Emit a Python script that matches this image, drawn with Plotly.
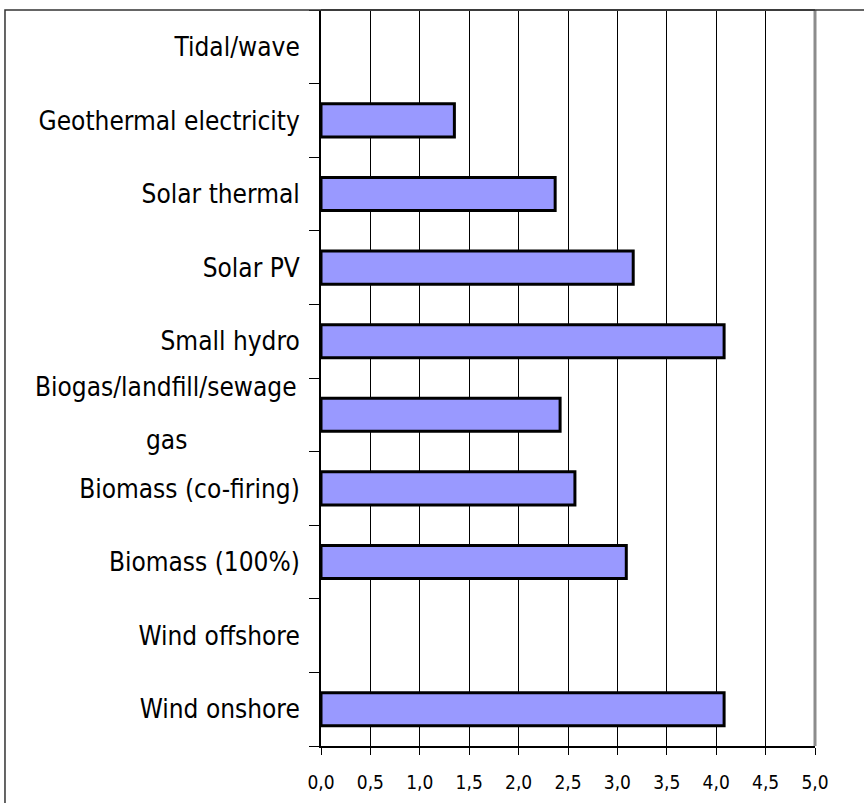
import plotly.graph_objects as go

# categories, bottom to top
sources = ['Wind onshore', 'Wind offshore', 'Biomass (100%)', 'Biomass (co-firing)',
           'Biogas/landfill/sewage gas', 'Small hydro', 'Solar PV', 'Solar thermal',
           'Geothermal electricity', 'Tidal/wave']
values = [4.08, None, 3.09, 2.57, 2.42, 4.08, 3.16, 2.37, 1.35, None]
x_ticks = [0, 0.5, 1, 1.5, 2, 2.5, 3, 3.5, 4, 4.5, 5]

FONT = 'DejaVu Sans Condensed, Liberation Sans Narrow, Arial Narrow, sans-serif'

fig = go.Figure(go.Bar(
    x=values, y=sources, orientation='h',
    marker=dict(color='#9999FF', line=dict(color='black', width=3)),
    showlegend=False,
))

fig.update_layout(
    width=864, height=803,
    margin=dict(l=321, r=49, t=10, b=57),
    paper_bgcolor='white', plot_bgcolor='white',
    separators=',.',
    bargap=0.55,
    font=dict(family=FONT, color='black'),
)

fig.update_xaxes(
    range=[0, 5], tickvals=x_ticks, tickformat='.1f',
    showgrid=True, gridcolor='black', gridwidth=1,
    showline=True, linecolor='black', linewidth=2,
    ticks='outside', ticklen=7, tickcolor='black',
    tickfont=dict(size=19, family=FONT),
    ticklabelstandoff=11, zeroline=False, automargin=False,
)

fig.update_yaxes(
    type='category', categoryorder='array', categoryarray=sources,
    showgrid=False, showline=True, linecolor='black', linewidth=2,
    ticks='outside', tickson='boundaries', ticklen=10, tickcolor='black',
    tickfont=dict(size=26, family=FONT),
    ticklabelstandoff=14, automargin=False,
    labelalias={'Biogas/landfill/sewage gas': ' '},
)

# two-line centred label for the biogas category
fig.add_annotation(text='Biogas/landfill/sewage', xref='paper', yref='y',
                   x=0, y=sources[4], xanchor='center', xshift=-155, yshift=28,
                   showarrow=False, font=dict(size=26, family=FONT))
fig.add_annotation(text='gas', xref='paper', yref='y',
                   x=0, y=sources[4], xanchor='center', xshift=-155, yshift=-25,
                   showarrow=False, font=dict(size=26, family=FONT))

# grey top/right edge of the plot area
fig.add_shape(type='line', xref='paper', yref='paper', x0=1, x1=1, y0=0, y1=1,
              line=dict(color='#8c8c8c', width=3), layer='above')
fig.add_shape(type='line', xref='paper', yref='paper', x0=0, x1=1, y0=1, y1=1,
              line=dict(color='#555555', width=2), layer='above')

# outer chart border
fig.add_shape(type='rect', xref='paper', yref='paper',
              x0=-0.6397, x1=1.12, y0=-0.1, y1=1.0,
              line=dict(color='#333333', width=1.5), layer='above')

fig.write_html('out.html', config={'displayModeBar': False},
               post_script="document.body.style.margin='0';")
